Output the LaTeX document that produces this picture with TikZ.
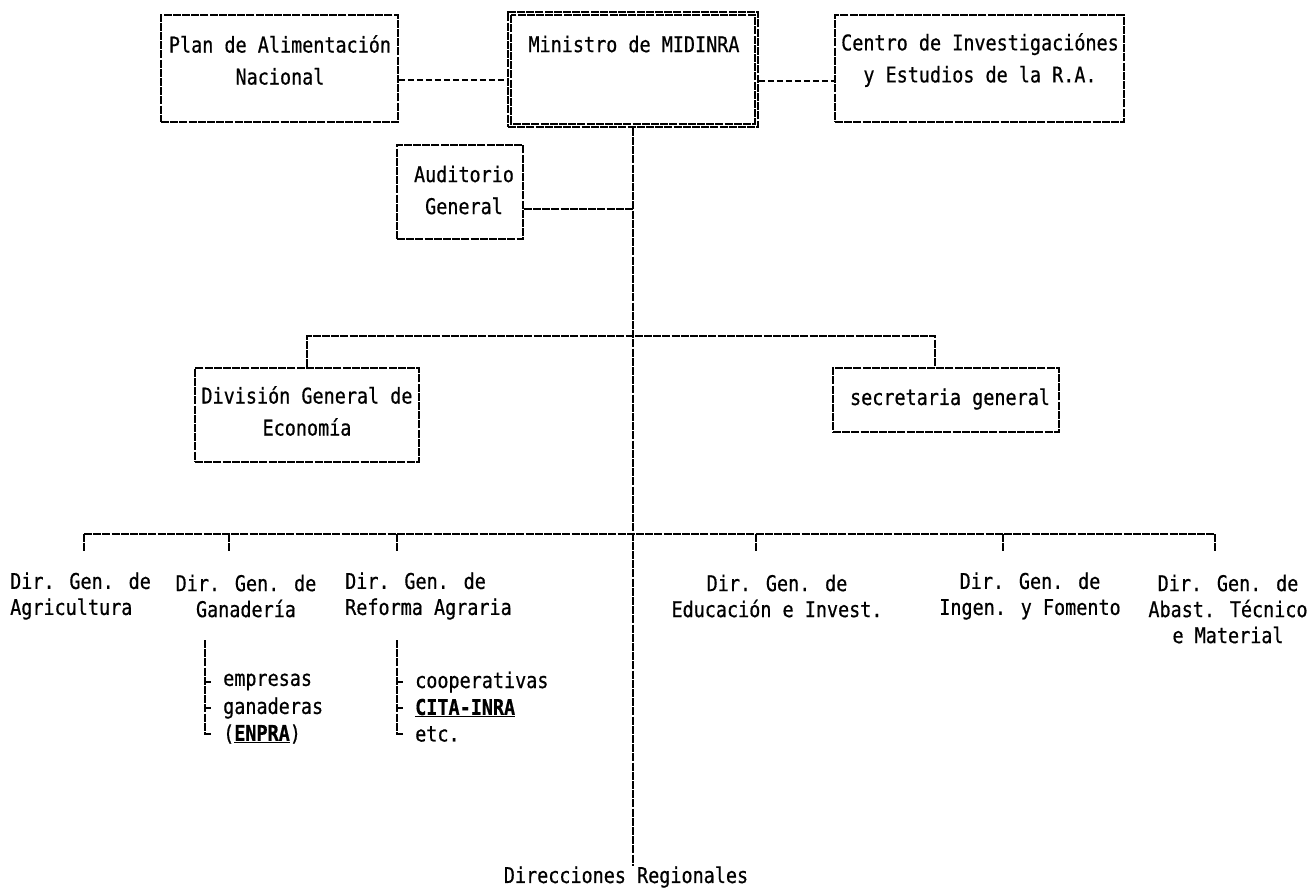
\documentclass[tikz,border=0pt]{standalone}
\usepackage{fontspec}
\newfontfamily\dotfont[FakeStretch=0.85,FakeBold=0.6]{DejaVu Sans Mono}
\begin{document}
\begin{tikzpicture}[x=1pt,y=-1pt,
  boxline/.style={draw=black, line width=1.6pt, dash pattern=on 8pt off 1.2pt},
  box/.style={boxline, inner sep=0pt, rectangle},
  txt/.style={inner sep=0pt, font=\dotfont\fontsize{21.7}{32}\selectfont, align=center},
  ltxt/.style={inner sep=0pt, font=\dotfont\fontsize{21.7}{26}\selectfont},
  conn/.style={line width=1.6pt, dash pattern=on 8pt off 1.2pt},
  link/.style={line width=1.6pt, dash pattern=on 6pt off 3pt}]
\useasboundingbox (0,0) rectangle (1313,887);
% top row
\node[box, minimum width=237pt, minimum height=107pt] (plan) at (279.5,68.5) {};
\node[txt] (plant) at (280,60) {Plan de Alimentación\\Nacional};
\node[box, minimum width=250pt, minimum height=115pt] (min) at (633,69.5) {};
\draw[boxline] ([xshift=4pt,yshift=-4pt]min.north west) rectangle ([xshift=-4pt,yshift=4pt]min.south east);
\node[txt] (mint) at (634,44) {Ministro de MIDINRA};
\node[box, minimum width=289pt, minimum height=107pt] (cen) at (979.5,68.5) {};
\node[txt] (cent) at (980,60) {Centro de Investigaciónes\\y Estudios de la R.A.};
\draw[link] ([yshift=-11.5pt]plan.east) -- ([yshift=-11.5pt]plan.east -| min.west);
\draw[link] ([yshift=-11.5pt]min.east) -- ([yshift=-11.5pt]min.east -| cen.west);
% auditorio
\node[box, minimum width=126pt, minimum height=94pt] (aud) at (460,192) {};
\node[txt] (audt) at (464,190) {Auditorio\\General};
% division / secretaria
\node[box, minimum width=224pt, minimum height=94pt] (div) at (307,415) {};
\node[txt] (divt) at (307,411) {División General de\\Economía};
\node[box, minimum width=226pt, minimum height=64pt] (sec) at (946,400) {};
\node[txt] (sect) at (950,399) {secretaria general};
% bottom label
\node[txt] (reg) at (626,877) {Direcciones Regionales};
% main vertical
\draw[conn] (min.south) -- (min.south |- reg.north);
\draw[conn] ([yshift=-17pt]aud.east) -- ([yshift=-17pt]aud.east -| min.south);
\draw[conn] (div.north) -- ++(0,-31) -| ([xshift=-11pt]sec.north);
% bus of directions
\coordinate (t1) at (84,534);
\coordinate (t2) at (229,534);
\coordinate (t3) at (397,534);
\coordinate (t4) at (756,534);
\coordinate (t5) at (1003,534);
\coordinate (t6) at (1215,534);
\draw[conn] (t1) -- (t6);
\foreach \t in {t1,t2,t3,t4,t5,t6} \draw[conn] (\t) -- ++(0,18);
% directions
\node[ltxt, align=left, anchor=west] (d1) at (10,596) {Dir. Gen. de\\Agricultura};
\node[ltxt, align=center] (d2) at (246,596) {Dir. Gen. de\\Ganadería};
\node[ltxt, align=left, anchor=west] (d3) at (345,596) {Dir. Gen. de\\Reforma Agraria};
\node[ltxt, align=center] (d4) at (777,596) {Dir. Gen. de\\Educación e Invest.};
\node[ltxt, align=center] (d5) at (1030,596) {Dir. Gen. de\\Ingen. y Fomento};
\node[ltxt, align=center] (d6) at (1228,609) {Dir. Gen. de\\Abast. Técnico\\e Material};
% sub-items Ganaderia
\node[ltxt, anchor=west] (g1) at (223,682) {empresas};
\node[ltxt, anchor=west] (g2) at (223,708) {ganaderas};
\node[ltxt, anchor=west] (g3) at (223,734) {(\underline{\textbf{ENPRA}})};
\coordinate (gb) at (205,640);
\draw[conn] (gb) -- (gb |- g3.west) -- ++(6,0);
\draw[conn] (gb |- g1.west) -- ++(6,0);
\draw[conn] (gb |- g2.west) -- ++(6,0);
% sub-items Reforma
\node[ltxt, anchor=west] (r1) at (415,682) {cooperativas};
\node[ltxt, anchor=west] (r2) at (415,708) {\underline{\textbf{CITA-INRA}}};
\node[ltxt, anchor=west] (r3) at (415,734) {etc.};
\coordinate (rb) at (397,640);
\draw[conn] (rb) -- (rb |- r3.west) -- ++(6,0);
\draw[conn] (rb |- r1.west) -- ++(6,0);
\draw[conn] (rb |- r2.west) -- ++(6,0);
\end{tikzpicture}
\end{document}
